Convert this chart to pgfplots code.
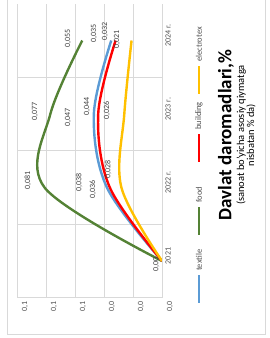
\documentclass[border=0pt]{standalone}
\usepackage{fontspec}
\setmainfont{Carlito}
\usepackage{pgfplots}
\pgfplotsset{compat=1.18}
\usepackage{pgfplotstable}

\definecolor{cblue}{HTML}{5B9BD5}
\definecolor{cgreen}{HTML}{548235}
\definecolor{cred}{HTML}{FF0000}
\definecolor{cyellow}{HTML}{FFC000}
\definecolor{gridc}{HTML}{D9D9D9}
\definecolor{txt}{HTML}{505050}
\definecolor{lab}{HTML}{404040}

% value, category index (0=2021 ... 3=2024)
\pgfplotstableread{
v y
0 0
0.038 1
0.047 2
0.035 3
}\textile
\pgfplotstableread{
v y
0 0
0.081 1
0.077 2
0.055 3
}\food
\pgfplotstableread{
v y
0 0
0.036 1
0.044 2
0.032 3
}\building
\pgfplotstableread{
v y
0 0
0.028 1
0.026 2
0.021 3
}\electrotex
\pgfplotstableread{
v y lab
0.0924 1.10 0,081
0.0572 1.07 0,038
0.0476 0.97 0,036
0.0372 1.24 0,028
0.0040 -0.05 0,00
0.0876 2.03 0,077
0.0648 1.95 0,047
0.0517 2.10 0,044
0.0379 2.05 0,026
0.0648 3.03 0,055
0.0469 3.10 0,035
0.0393 3.12 0,032
0.0310 3.01 0,021
}\labels

\begin{document}
\begin{tikzpicture}
\useasboundingbox (0,0) rectangle (270pt,338pt);
\draw[gridc, line width=0.6pt] (7pt,338pt) -- (7pt,4pt) -- (265pt,4pt) -- (265pt,338pt);
\begin{axis}[
  at={(17pt,40.25pt)}, anchor=south west,
  width=145pt, height=294pt, scale only axis,
  x dir=reverse,
  xmin=0, xmax=0.1, ymin=-0.5, ymax=3.5,
  xtick={0,0.02,0.04,0.06,0.08,0.1},
  ytick={0,1,2,3},
  yticklabels={2021,2022 г.,2023 г.,2024 г.},
  yticklabel pos=right,
  extra y ticks={-0.5,0.5,1.5,2.5},
  extra y tick labels={},
  extra y tick style={ymajorgrids=true},
  xmajorgrids=true,
  grid style={gridc, line width=0.6pt},
  axis line style={draw=none},
  major tick length=0pt,
  /pgf/number format/.cd, fixed, fixed zerofill, precision=1, use comma, assume math mode=true,
  /pgfplots/.cd,
  xticklabel style={rotate=90, anchor=east, font=\fontsize{8}{9}\selectfont, text=txt, yshift=-8pt},
  yticklabel style={rotate=90, anchor=north, font=\fontsize{8}{9}\selectfont, text=txt, xshift=5pt},
  every axis plot/.append style={line width=2.4pt, smooth, tension=0.55},
]
\addplot[cblue] table[x=v,y=y] {\textile};
\addplot[cgreen] table[x=v,y=y] {\food};
\addplot[cred] table[x=v,y=y] {\building};
\addplot[cyellow] table[x=v,y=y] {\electrotex};
\addplot[draw=none, mark=none, nodes near coords, point meta=explicit symbolic,
  every node near coord/.style={rotate=90, anchor=center, inner sep=0pt, font=\fontsize{8}{9}\selectfont, text=lab}]
  table[x=v,y=y,meta=lab] {\labels};
\end{axis}
% legend
\begin{scope}[line width=2.4pt]
\draw[cblue] (199pt,338pt-303pt) -- (199pt,338pt-275pt);
\node[rotate=90, anchor=west, inner sep=0pt, font=\fontsize{8.5}{9}\selectfont, text=txt] at (199pt,338pt-272pt) {textile};
\draw[cgreen] (199pt,338pt-235pt) -- (199pt,338pt-207pt);
\node[rotate=90, anchor=west, inner sep=0pt, font=\fontsize{8.5}{9}\selectfont, text=txt] at (199pt,338pt-204pt) {food};
\draw[cred] (199pt,338pt-162pt) -- (199pt,338pt-134pt);
\node[rotate=90, anchor=west, inner sep=0pt, font=\fontsize{8.5}{9}\selectfont, text=txt] at (199pt,338pt-131pt) {building};
\draw[cyellow] (199pt,338pt-94pt) -- (199pt,338pt-66pt);
\node[rotate=90, anchor=west, inner sep=0pt, font=\fontsize{8.5}{9}\selectfont, text=txt] at (199pt,338pt-63pt) {electrotex};
\end{scope}
% title
\node[rotate=90, inner sep=0pt, font=\bfseries\fontsize{19}{21}\selectfont] at (226pt,338pt-135pt) {Davlat daromadlari,\%};
\node[rotate=90, inner sep=0pt, align=center, font=\fontsize{10.5}{10}\selectfont] at (246pt,338pt-135pt) {(sanoat bo'yicha asosiy qiymatga\\nisbatan \% da)};
\end{tikzpicture}
\end{document}
